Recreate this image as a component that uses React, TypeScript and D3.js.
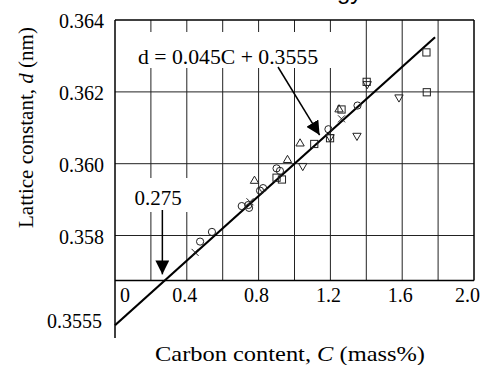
import React, { useEffect, useRef } from "react";
import * as d3 from "d3";

// carbon content C (mass%) and lattice constant d (nm) per marker type
const circleC = [0.474, 0.54, 0.706, 0.743, 0.747, 0.808, 0.825, 0.9, 0.919, 1.189, 1.351];
const circleD = [0.35783, 0.3581, 0.35882, 0.35885, 0.35877, 0.35925, 0.35932, 0.35987, 0.3598, 0.36096, 0.36162];
const squareC = [0.9, 0.93, 1.11, 1.198, 1.262, 1.402, 1.735, 1.737];
const squareD = [0.35961, 0.35956, 0.36055, 0.36071, 0.36151, 0.36228, 0.3631, 0.36199];
const triUpC = [0.777, 0.961, 1.031, 1.248];
const triUpD = [0.35952, 0.3601, 0.36056, 0.36151];
const triDownC = [1.046, 1.198, 1.348, 1.405, 1.582];
const triDownD = [0.35994, 0.36074, 0.36078, 0.36222, 0.36185];
const crossC = [0.446, 0.752, 1.262];
const crossD = [0.35753, 0.35894, 0.36125];

const xTicks = [0, 0.4, 0.8, 1.2, 1.6, 2.0];
const xGrid = [0.2, 0.4, 0.6, 0.8, 1.0, 1.2, 1.4, 1.6, 1.8];
const yTicks = [0.364, 0.362, 0.36, 0.358];

const slope = 0.0045;
const intercept = 0.3555;
const lineEnd = 1.783;
const axisD = 0.35675; // where the C axis crosses
const crossAt = 0.275;

export default function App() {
  const svgRef = useRef<SVGSVGElement>(null);

  useEffect(() => {
    if (!svgRef.current) return;
    const svg = d3.select(svgRef.current);
    svg.selectAll("*").remove();

    const font = "'Liberation Serif', 'Times New Roman', serif";
    const x = d3.scaleLinear().domain([0, 2]).range([115, 474]);
    const y = d3.scaleLinear().domain([0.358, 0.364]).range([235.5, 20.1]);
    const top = y(0.364);
    const bottom = y(axisD);

    svg.append("rect").attr("width", 483).attr("height", 365).attr("fill", "#fff");

    // cropped title fragment
    svg
      .append("text")
      .attr("x", 337)
      .attr("y", -1)
      .style("font-family", "'Liberation Sans', Arial, sans-serif")
      .style("font-size", "24px")
      .text("gy");

    const grid = svg.append("g").attr("stroke", "#222").attr("stroke-width", 1);
    grid
      .selectAll(".vg")
      .data(xGrid)
      .enter()
      .append("line")
      .attr("x1", (d) => x(d))
      .attr("x2", (d) => x(d))
      .attr("y1", top)
      .attr("y2", bottom);
    grid
      .selectAll(".hg")
      .data(yTicks.slice(1))
      .enter()
      .append("line")
      .attr("x1", x(0))
      .attr("x2", x(2))
      .attr("y1", (d) => y(d))
      .attr("y2", (d) => y(d));

    // frame
    const frame = svg.append("g").attr("stroke", "#000").attr("stroke-width", 1.5).attr("fill", "none");
    frame.append("line").attr("x1", x(0)).attr("x2", x(2)).attr("y1", top).attr("y2", top);
    frame.append("line").attr("x1", x(2)).attr("x2", x(2)).attr("y1", top).attr("y2", bottom);
    frame.append("line").attr("x1", x(0)).attr("x2", x(2)).attr("y1", bottom).attr("y2", bottom);
    frame.append("line").attr("x1", x(0)).attr("x2", x(0)).attr("y1", top).attr("y2", 338);

    // label boxes
    svg.append("rect").attr("x", 134).attr("y", 32).attr("width", 202).attr("height", 36).attr("fill", "#fff");
    svg.append("rect").attr("x", 132).attr("y", 178).attr("width", 58).attr("height", 34).attr("fill", "#fff");

    // fit line
    svg
      .append("line")
      .attr("x1", x(0))
      .attr("y1", y(intercept))
      .attr("x2", x(lineEnd))
      .attr("y2", y(intercept + slope * lineEnd))
      .attr("stroke", "#000")
      .attr("stroke-width", 2.2);

    // markers
    const mk = svg.append("g").attr("fill", "none").attr("stroke", "#222").attr("stroke-width", 1);
    circleC.forEach((c, i) => {
      mk.append("circle").attr("cx", x(c)).attr("cy", y(circleD[i])).attr("r", 3.6);
    });
    squareC.forEach((c, i) => {
      mk.append("rect").attr("x", x(c) - 3.6).attr("y", y(squareD[i]) - 3.6).attr("width", 7.2).attr("height", 7.2);
    });
    const tri = d3.symbol().type(d3.symbolTriangle).size(30);
    triUpC.forEach((c, i) => {
      mk.append("path").attr("d", tri()).attr("transform", `translate(${x(c)},${y(triUpD[i])})`);
    });
    triDownC.forEach((c, i) => {
      mk.append("path").attr("d", tri()).attr("transform", `translate(${x(c)},${y(triDownD[i])}) rotate(180)`);
    });
    crossC.forEach((c, i) => {
      const cx = x(c), cy = y(crossD[i]);
      mk.append("path").attr("d", `M${cx - 3.5},${cy - 3.5}L${cx + 3.5},${cy + 3.5}M${cx - 3.5},${cy + 3.5}L${cx + 3.5},${cy - 3.5}`);
    });

    // arrows
    svg
      .append("defs")
      .append("marker")
      .attr("id", "head")
      .attr("viewBox", "0 0 10 10")
      .attr("refX", 10)
      .attr("refY", 5)
      .attr("markerWidth", 14)
      .attr("markerHeight", 14)
      .attr("markerUnits", "userSpaceOnUse")
      .attr("orient", "auto")
      .append("path")
      .attr("d", "M0,0L10,5L0,10Z")
      .attr("fill", "#000");

    const fx = 1.14;
    svg
      .append("line")
      .attr("x1", 278)
      .attr("y1", 67)
      .attr("x2", x(fx))
      .attr("y2", y(intercept + slope * fx) - 6)
      .attr("stroke", "#000")
      .attr("stroke-width", 1.5)
      .attr("marker-end", "url(#head)");
    svg
      .append("line")
      .attr("x1", x(crossAt) - 2)
      .attr("y1", 210)
      .attr("x2", x(crossAt) - 2)
      .attr("y2", bottom - 6)
      .attr("stroke", "#000")
      .attr("stroke-width", 1.5)
      .attr("marker-end", "url(#head)");

    const txt = (s: string, tx: number, ty: number, anchor = "start", size = 20) =>
      svg
        .append("text")
        .attr("x", tx)
        .attr("y", ty)
        .attr("text-anchor", anchor)
        .style("font-family", font)
        .style("font-size", `${size}px`)
        .text(s);

    txt("d = 0.045C + 0.3555", 138, 64, "start", 21).attr("textLength", 180).attr("lengthAdjust", "spacingAndGlyphs");
    txt("0.275", 158, 205, "middle", 21);

    // y ticks
    yTicks.forEach((v) => txt(d3.format(".3f")(v), 104, y(v) + 8, "end"));
    txt("0.3555", 102, 328, "end");

    // x ticks
    xTicks.forEach((v, i) => {
      const lab = v === 0 ? "0" : d3.format(".1f")(v);
      if (i === 0) txt(lab, x(v) + 5, 302, "start");
      else if (i === xTicks.length - 1) txt(lab, x(v) + 6, 302, "end");
      else txt(lab, x(v) - 2, 302, "middle");
    });

    // axis titles
    const xt = svg
      .append("text")
      .attr("x", 155)
      .attr("y", 361)
      .attr("textLength", 270)
      .attr("lengthAdjust", "spacingAndGlyphs")
      .style("font-family", font)
      .style("font-size", "21px");
    xt.append("tspan").text("Carbon content, ");
    xt.append("tspan").style("font-style", "italic").text("C");
    xt.append("tspan").text(" (mass%)");

    const yt = svg
      .append("text")
      .attr("transform", "translate(33,228) rotate(-90)")
      .attr("textLength", 201)
      .attr("lengthAdjust", "spacingAndGlyphs")
      .style("font-family", font)
      .style("font-size", "21px");
    yt.append("tspan").text("Lattice constant, ");
    yt.append("tspan").style("font-style", "italic").text("d");
    yt.append("tspan").text(" (nm)");
  }, []);

  return (
    <svg
      ref={svgRef}
      width={483}
      height={365}
      style={{ position: "absolute", left: 0, top: 0, display: "block" }}
    />
  );
}
